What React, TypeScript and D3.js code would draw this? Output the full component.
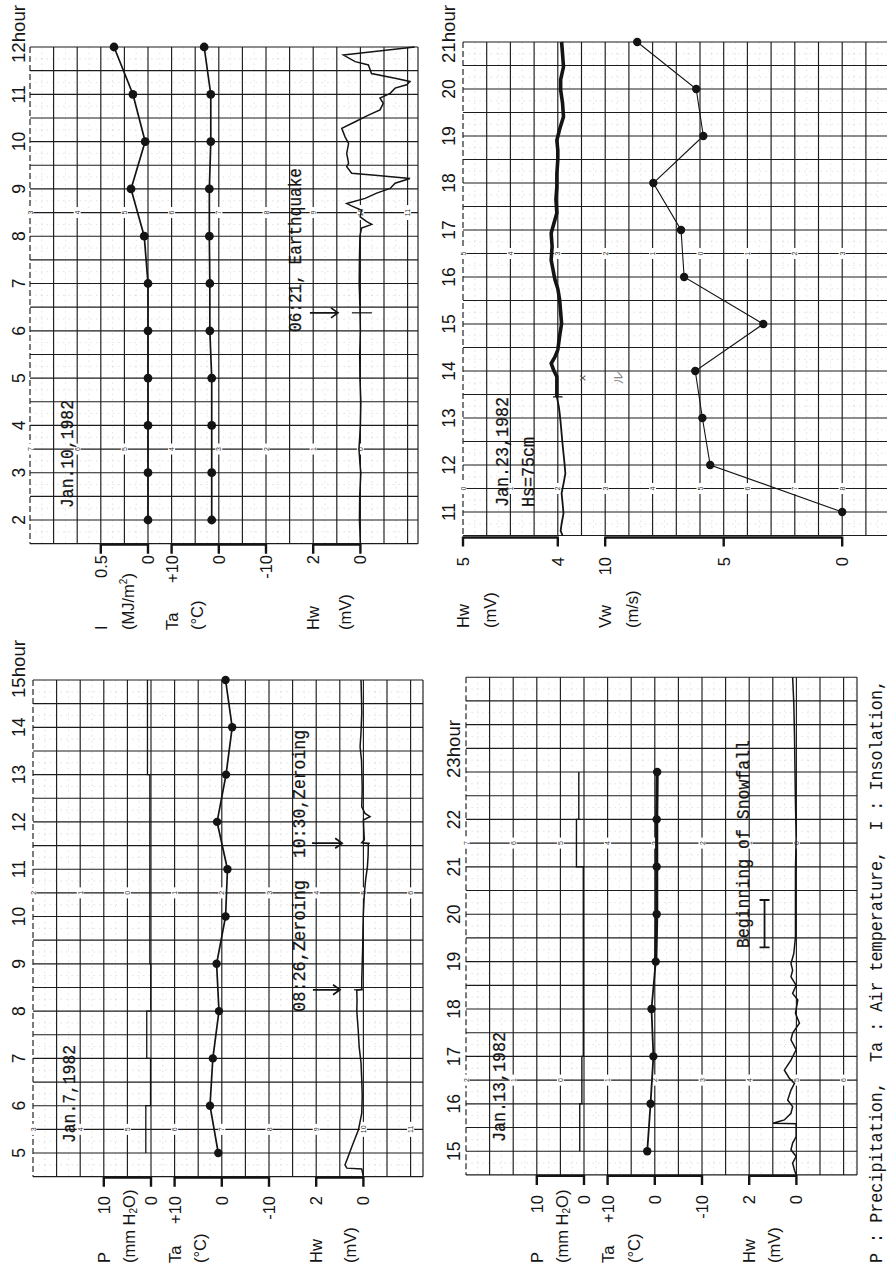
import React from "react";
import * as d3 from "d3";

const SANS = "'Liberation Sans', Arial, sans-serif";
const MONO = "'Liberation Mono', 'DejaVu Sans Mono', monospace";
const INK = "#141414";

// Jan.10,1982  (upper left)
const jan10Hours = [2, 3, 4, 5, 6, 7, 8, 9, 10, 11, 12];
const jan10Insolation = [0, 0, 0, 0, 0, 0, 0.04, 0.18, 0.03, 0.16, 0.36];
const jan10AirTemp = [1.5, 1.5, 1.5, 1.5, 1.9, 1.9, 2.0, 2.0, 1.7, 1.7, 3.1];
const jan10Hw: [number, number][] = [
  [12.0, -2.3], [11.83, 0.72], [11.69, 0.22], [11.62, -0.34], [11.44, -0.47], [11.34, -1.47],
  [11.27, -2.1], [11.2, -1.96], [11.13, -1.47], [11.02, -1.26], [10.92, -0.83], [10.81, -0.97],
  [10.67, -0.83], [10.56, -0.34], [10.42, 0.22], [10.28, 0.79], [10.1, 0.65], [9.96, 0.5],
  [9.75, 0.58], [9.54, 0.5], [9.47, 0.58], [9.33, 0.37], [9.29, -0.62], [9.22, -2.1],
  [9.12, -1.47], [9.01, -1.26], [8.91, -0.69], [8.8, -0.2], [8.69, 0.58], [8.64, 0.38],
  [8.55, -0.05], [8.41, 0.01], [8.31, -0.27], [8.25, -0.48], [8.17, -0.05], [8.0, 0.02],
  [7.5, 0.04], [7.0, 0.05], [6.5, 0.02], [6.0, 0.0], [5.5, 0.03], [5.0, 0.02], [4.5, -0.02],
  [4.0, 0.0], [3.5, 0.06], [3.2, 0.02], [3.0, -0.02], [2.5, 0.03], [2.0, 0.04], [1.5, 0.0],
];
const jan10Quake = 6.38;

// Jan.23,1982  (upper right)
const jan23Hours = [11, 12, 13, 14, 15, 16, 17, 18, 19, 20, 21];
const jan23WindSpeed = [0, 5.57, 5.9, 6.2, 3.33, 6.67, 6.8, 7.97, 5.86, 6.16, 8.65];
const jan23Hw: [number, number][] = [
  [21.0, 3.96], [20.75, 3.95], [20.47, 3.94], [20.2, 3.97], [19.98, 3.97], [19.7, 3.95],
  [19.41, 3.94], [19.15, 3.98], [18.91, 4.01], [18.7, 4.0], [18.49, 4.0], [18.2, 4.01],
  [17.92, 4.01], [17.65, 4.02], [17.36, 4.01], [17.15, 4.04], [16.93, 4.07], [16.65, 4.06],
  [16.36, 4.07], [16.15, 4.05], [15.94, 4.03], [15.75, 4.0], [15.51, 3.98], [15.25, 3.97],
  [15.01, 3.96], [14.75, 3.98], [14.45, 4.0], [14.3, 4.03], [14.16, 4.07], [14.0, 4.04],
  [13.88, 4.01], [13.65, 4.01], [13.45, 4.01], [13.25, 3.99], [13.1, 3.98], [12.9, 3.97],
  [12.67, 3.96], [12.45, 3.95], [12.25, 3.94], [12.05, 3.93], [11.82, 3.92], [11.6, 3.94],
  [11.4, 3.96], [11.2, 3.95], [10.97, 3.94], [10.75, 3.96], [10.6, 3.97], [10.5, 3.95],
];

// Jan.7,1982  (lower left)
const jan7Hours = [5, 6, 7, 8, 9, 10, 11, 12, 13, 14, 15];
const jan7AirTemp = [0.75, 2.5, 1.9, 0.6, 1.1, -0.8, -1.2, 1.0, -0.9, -2.2, -0.8];
const jan7PrecipBreaks = [5, 6, 7, 8, 9, 13, 15];
const jan7Precip = [1.1, 0.1, 0.9, 0.05, 0.25, 0.75];
const jan7Hw: [number, number][] = [
  [15.0, 0.1], [14.6, 0.08], [14.3, 0.07], [13.9, 0.1], [13.59, 0.14], [13.3, 0.08], [13.1, 0.07],
  [12.7, 0.05], [12.32, 0.07], [12.18, -0.07], [12.11, -0.28], [12.04, 0.0], [11.8, -0.02],
  [11.62, -0.04], [11.56, 0.07], [11.54, -0.21], [11.3, -0.2], [11.05, -0.17], [10.8, -0.1],
  [10.49, -0.04], [10.07, 0.0], [9.7, 0.02], [9.36, 0.03], [9.0, 0.05], [8.66, 0.07],
  [8.46, 0.07], [8.44, 0.28], [8.2, 0.27], [8.0, 0.28], [7.6, 0.22], [7.25, 0.18], [6.9, 0.1],
  [6.54, 0.07], [6.2, 0.05], [5.84, 0.07], [5.49, 0.21], [5.13, 0.49], [4.85, 0.7], [4.75, 0.78],
  [4.68, 0.7], [4.66, 0.07], [4.5, 0.0],
];
const jan7Zeroing = [8.45, 11.55];

// Jan.13,1982  (lower right)
const jan13Hours = [15, 16, 17, 18, 19, 20, 21, 22, 23];
const jan13AirTemp = [1.6, 0.9, 0.3, 0.7, -0.2, -0.4, -0.4, -0.4, -0.5];
const jan13PrecipBreaks = [15, 16, 17, 21, 22, 23];
const jan13Precip = [0.9, 0.45, 0.15, 1.6, 1.1];
const jan13Hw: [number, number][] = [
  [25.0, 0.16], [24.45, 0.11], [23.75, 0.08], [23.04, 0.06], [22.34, 0.04], [21.63, 0.01],
  [20.93, 0.04], [20.23, 0.04], [19.52, 0.04], [19.17, 0.11], [18.96, 0.23], [18.82, 0.16],
  [18.68, 0.23], [18.5, 0.01], [18.33, 0.16], [18.19, -0.06], [17.91, 0.04], [17.7, -0.13],
  [17.49, 0.16], [17.35, 0.23], [17.14, 0.01], [16.92, 0.23], [16.71, 0.51], [16.54, 0.3],
  [16.43, 0.08], [16.29, 0.23], [16.08, 0.37], [15.94, 0.16], [15.8, 0.23], [15.66, 0.51],
  [15.62, 0.78], [15.59, 0.99], [15.58, 0.01], [15.31, 0.01], [15.17, 0.16], [15.03, 0.23],
  [14.89, 0.01], [14.75, 0.16], [14.6, 0.08], [14.5, 0.01],
];
const jan13Snowfall = [19.3, 20.3];

// numbers printed on the recorder paper, every second column
const paperA = { rows: [8.5, 3.5], labels: [["3", "4", "5", "6", "7", "8", "9", "10", "11"], ["7", "6", "5", "4", "3", "2", "1", "0"]] };
const paperB = { rows: [16.5, 11.5], labels: [["5", "4", "3", "2", "1", "0", "1", "2", "3"], ["0", "1", "2", "3", "4", "5", "6", "7", "8"]] };
const paperC = { rows: [10.5, 5.5], labels: [["2", "1", "0", "1", "2", "3", "4", "5", "6"], ["3", "4", "5", "6", "7", "8", "9", "10", "11"]] };
const paperD = { rows: [21.5, 16.5], labels: [["7", "6", "5", "4", "3", "2", "1", "0"], ["2", "1", "0", "1", "2", "3", "4", "5", "6"]] };

type Geo = {
  left: number; right: number; step: number; cols: number;
  hMin: number; hMax: number; top: number; bottom: number; border: boolean;
};

const geoA: Geo = { left: 30, right: 418, step: 23.6, cols: 16, hMin: 1.5, hMax: 12, top: 47, bottom: 543.65, border: true };
const geoB: Geo = { left: 463, right: 887, step: 23.7, cols: 18, hMin: 10.5, hMax: 21, top: 42, bottom: 535.5, border: false };
const geoC: Geo = { left: 33, right: 423, step: 23.6, cols: 16, hMin: 4.5, hMax: 15, top: 680, bottom: 1176.65, border: true };
const geoD: Geo = { left: 466, right: 857, step: 23.6, cols: 16, hMin: 14.5, hMax: 25, top: 677.2, bottom: 1174.9, border: true };

const col = (g: Geo, k: number) => g.left + k * g.step;
const colScale = (g: Geo, v0: number, k0: number, v1: number, k1: number) =>
  d3.scaleLinear().domain([v0, v1]).range([col(g, k0), col(g, k1)]);
const timeScale = (g: Geo) => d3.scaleLinear().domain([g.hMin, g.hMax]).range([g.bottom, g.top]);

function VText({ x, y, anchor = "start", size = 16, family = SANS, len, fill = INK, children }: any) {
  return (
    <text
      transform={`translate(${x},${y}) rotate(-90)`}
      textAnchor={anchor}
      dominantBaseline="central"
      fontSize={size}
      fontFamily={family}
      fill={fill}
      textLength={len}
      lengthAdjust={len ? "spacingAndGlyphs" : undefined}
      style={{ whiteSpace: "pre" }}
    >
      {children}
    </text>
  );
}

function Grid({ g, ys, paper }: { g: Geo; ys: any; paper: any }) {
  const rows = d3.range(g.hMin, g.hMax + 0.001, 0.5);
  const midRows = d3.range(g.hMin + 0.25, g.hMax, 0.5);
  const cols = d3.range(0, g.cols + 1).map((k) => col(g, k)).filter((x) => x <= g.right);
  const midCols = d3.range(0, g.cols + 1).map((k) => col(g, k + 0.5)).filter((x) => x < g.right);
  return (
    <g>
      {midRows.map((h, i) => (
        <line key={"mr" + i} x1={g.left} x2={g.right} y1={ys(h)} y2={ys(h)} stroke="#999" strokeWidth={0.7} strokeDasharray="1.5 4" opacity={0.4} />
      ))}
      {midCols.map((x, i) => (
        <line key={"mc" + i} x1={x} x2={x} y1={g.top} y2={g.bottom} stroke="#999" strokeWidth={0.7} strokeDasharray="1.5 4" opacity={0.4} />
      ))}
      {rows.map((h, i) => (
        <line key={"r" + i} x1={g.left} x2={g.right} y1={ys(h)} y2={ys(h)} stroke="#1c1c1c" strokeWidth={1.15} />
      ))}
      {cols.map((x, i) => (
        <line key={"c" + i} x1={x} x2={x} y1={g.top} y2={g.bottom} stroke="#1c1c1c" strokeWidth={1.15}
          strokeDasharray={i === 0 ? "6 3" : undefined} />
      ))}
      {g.border && <line x1={g.right} x2={g.right} y1={g.top} y2={g.bottom} stroke="#1c1c1c" strokeWidth={1.15} />}
      {paper.rows.map((h: number, r: number) =>
        paper.labels[r].map((t: string, i: number) => {
          const x = col(g, i * 2);
          if (x > 884) return null;
          return (
            <g key={"p" + r + "-" + i}>
              <rect x={x - 3.5} y={ys(h) - 3.5 - t.length * 2} width={7} height={7 + t.length * 4} fill="#fff" />
              <VText x={x} y={ys(h)} anchor="middle" size={7} fill="#333">{t}</VText>
            </g>
          );
        })
      )}
    </g>
  );
}

function Hours({ ys, hours, x, topOffset }: { ys: any; hours: number[]; x: number; topOffset: number }) {
  const last = hours[hours.length - 1];
  return (
    <g>
      {hours.slice(0, -1).map((h) => (
        <VText key={h} x={x} y={ys(h)} anchor="middle" size={17.5}>{String(h)}</VText>
      ))}
      <VText x={x} y={ys(last) + topOffset} size={17.5} len={58}>{`${last}hour`}</VText>
    </g>
  );
}

function Axis({ scale, ticks, labels, y, labelTop, nameBottom, name, unit, unitDx = 26 }: any) {
  const xs: number[] = ticks.map((t: number) => scale(t));
  const x0 = d3.min(xs) as number;
  const x1 = d3.max(xs) as number;
  const d = `M${x0},${y}H${x1}` + xs.map((x) => `M${x},${y - 1}V${y + 9}`).join("");
  return (
    <g>
      <path d={d} stroke={INK} strokeWidth={2.4} fill="none" />
      {xs.map((x, i) => (
        <VText key={i} x={x} y={labelTop} anchor="end" size={16.5}>{labels[i]}</VText>
      ))}
      <VText x={x0} y={nameBottom} size={16.5}>{name}</VText>
      <VText x={x0 + unitDx} y={nameBottom} size={16.5}>{unit}</VText>
    </g>
  );
}

function Arrow({ y, x0, x1, m0, m1 }: { y: number; x0: number; x1: number; m0: number; m1: number }) {
  return (
    <g stroke={INK} strokeWidth={1.7} fill="none">
      <path d={`M${x0},${y}H${x1}M${x1 - 7},${y - 5}L${x1},${y}L${x1 - 7},${y + 5}`} />
      <path d={`M${m0},${y}H${m1}`} strokeWidth={1.2} />
    </g>
  );
}

const traceLine = (xs: any, ys: any) =>
  d3.line<[number, number]>().x((d) => xs(d[1])).y((d) => ys(d[0]));

const stepPoints = (breaks: number[], vals: number[]): [number, number][] =>
  vals.flatMap((v, i) => [[breaks[i], v], [breaks[i + 1], v]] as [number, number][]);

function Dots({ hours, vals, xs, ys, r = 4.4 }: any) {
  return (
    <g>
      {hours.map((h: number, i: number) => (
        <circle key={h} cx={xs(vals[i])} cy={ys(h)} r={r} fill={INK} />
      ))}
    </g>
  );
}

function Label({ x, y, len, children }: any) {
  return (
    <g stroke={INK} strokeWidth={0.25}>
      <VText x={x} y={y} family={MONO} size={19} len={len}>{children}</VText>
    </g>
  );
}

function PanelJan10() {
  const g = geoA;
  const ys = timeScale(g);
  const xI = colScale(g, 0, 5, 0.5, 3);
  const xTa = colScale(g, -10, 10, 10, 6);
  const xHw = colScale(g, 0, 14, 2, 12);
  const iPts = jan10Hours.map((h, i) => [h, jan10Insolation[i]] as [number, number]);
  const taPts = jan10Hours.map((h, i) => [h, jan10AirTemp[i]] as [number, number]);
  const yq = ys(jan10Quake);
  return (
    <g>
      <Grid g={g} ys={ys} paper={paperA} />
      <Hours ys={ys} hours={jan10Hours} x={18.5} topOffset={16} />
      <path d={traceLine(xI, ys)(iPts) || ""} stroke={INK} strokeWidth={1.7} fill="none" />
      <Dots hours={jan10Hours} vals={jan10Insolation} xs={xI} ys={ys} />
      <path d={traceLine(xTa, ys)(taPts) || ""} stroke={INK} strokeWidth={1.7} fill="none" />
      <Dots hours={jan10Hours} vals={jan10AirTemp} xs={xTa} ys={ys} />
      <path d={traceLine(xHw, ys)(jan10Hw) || ""} stroke={INK} strokeWidth={1.5} fill="none" />
      <Arrow y={yq} x0={xHw(2.14)} x1={xHw(0.95)} m0={xHw(0.36)} m1={xHw(-0.49)} />
      <Label x={68} y={508} len={108}>Jan.10,1982</Label>
      <Label x={296} y={332} len={164}>06:21, Earthquake</Label>
      <Axis scale={xI} ticks={[0.5, 0]} labels={["0.5", "0"]} y={g.bottom + 1} labelTop={555} nameBottom={630}
        name="I" unitDx={27}
        unit={<>(MJ/m<tspan dy={-5} fontSize={10}>2</tspan><tspan dy={5}>)</tspan></>} />
      <Axis scale={xTa} ticks={[10, 0, -10]} labels={["+10", "0", "-10"]} y={g.bottom + 1} labelTop={555} nameBottom={630}
        name="Ta" unit="(°C)" unitDx={25} />
      <Axis scale={xHw} ticks={[2, 0]} labels={["2", "0"]} y={g.bottom + 1} labelTop={555} nameBottom={630}
        name="Hw" unit="(mV)" unitDx={32} />
    </g>
  );
}

function PanelJan23() {
  const g = geoB;
  const ys = timeScale(g);
  const xHw = colScale(g, 4, 4, 5, 0);
  const xVw = colScale(g, 0, 16, 10, 6);
  const vwPts = jan23Hours.map((h, i) => [h, jan23WindSpeed[i]] as [number, number]);
  const upper = jan23Hw.filter((d) => d[0] >= 13.3);
  const lower = jan23Hw.filter((d) => d[0] <= 13.45);
  const yMark = ys(13.45);
  return (
    <g>
      <Grid g={g} ys={ys} paper={paperB} />
      <Hours ys={ys} hours={jan23Hours} x={449} topOffset={21} />
      <path d={traceLine(xHw, ys)(upper) || ""} stroke={INK} strokeWidth={3.6} fill="none" strokeLinejoin="round" />
      <path d={traceLine(xHw, ys)(lower) || ""} stroke={INK} strokeWidth={1.8} fill="none" />
      <path d={`M${xHw(4.05)},${yMark}H${xHw(3.95)}`} stroke={INK} strokeWidth={1.3} />
      <path d={traceLine(xVw, ys)(vwPts) || ""} stroke={INK} strokeWidth={1.1} fill="none" />
      <Dots hours={jan23Hours} vals={jan23WindSpeed} xs={xVw} ys={ys} r={4.2} />
      <VText x={xHw(3.73)} y={ys(13.85)} anchor="middle" size={12} fill="#555">×</VText>
      <VText x={xHw(3.37)} y={ys(13.85)} anchor="middle" size={12} fill="#777">ル</VText>
      <Label x={503} y={507} len={110}>Jan.23,1982</Label>
      <Label x={529} y={507} len={70}>Hs=75cm</Label>
      <Axis scale={xHw} ticks={[5, 4]} labels={["5", "4"]} y={g.bottom + 2} labelTop={557} nameBottom={628}
        name="Hw" unit="(mV)" unitDx={27} />
      <Axis scale={xVw} ticks={[10, 5, 0]} labels={["10", "5", "0"]} y={g.bottom + 2} labelTop={557} nameBottom={628}
        name="Vw" unit="(m/s)" unitDx={27} />
    </g>
  );
}

function PanelJan7() {
  const g = geoC;
  const ys = timeScale(g);
  const xP = colScale(g, 0, 5, 10, 3);
  const xTa = colScale(g, -10, 10, 10, 6);
  const xHw = colScale(g, 0, 14, 2, 12);
  const taPts = jan7Hours.map((h, i) => [h, jan7AirTemp[i]] as [number, number]);
  return (
    <g>
      <Grid g={g} ys={ys} paper={paperC} />
      <Hours ys={ys} hours={jan7Hours} x={19} topOffset={18} />
      <path d={traceLine(xP, ys)(stepPoints(jan7PrecipBreaks, jan7Precip)) || ""} stroke={INK} strokeWidth={1.3} fill="none" />
      <path d={traceLine(xTa, ys)(taPts) || ""} stroke={INK} strokeWidth={1.7} fill="none" />
      <Dots hours={jan7Hours} vals={jan7AirTemp} xs={xTa} ys={ys} r={4.2} />
      <path d={traceLine(xHw, ys)(jan7Hw) || ""} stroke={INK} strokeWidth={1.5} fill="none" />
      <Arrow y={ys(jan7Zeroing[0])} x0={xHw(2.14)} x1={xHw(0.99)} m0={xHw(0.4)} m1={xHw(0)} />
      <Arrow y={ys(jan7Zeroing[1])} x0={xHw(2.18)} x1={xHw(0.9)} m0={xHw(0)} m1={xHw(-0.28)} />
      <Label x={70} y={1143} len={98}>Jan.7,1982</Label>
      <Label x={300} y={1012} len={132}>08:26,Zeroing</Label>
      <Label x={300} y={858} len={128}>10:30,Zeroing</Label>
      <Axis scale={xP} ticks={[10, 0]} labels={["10", "0"]} y={g.bottom + 1} labelTop={1196} nameBottom={1263}
        name="P" unitDx={25}
        unit={<>(mm H<tspan dy={4} fontSize={10}>2</tspan><tspan dy={-4}>O)</tspan></>} />
      <Axis scale={xTa} ticks={[10, 0, -10]} labels={["+10", "0", "-10"]} y={g.bottom + 1} labelTop={1196} nameBottom={1263}
        name="Ta" unit="(°C)" unitDx={25} />
      <Axis scale={xHw} ticks={[2, 0]} labels={["2", "0"]} y={g.bottom + 1} labelTop={1196} nameBottom={1263}
        name="Hw" unit="(mV)" unitDx={34} />
    </g>
  );
}

function PanelJan13() {
  const g = geoD;
  const ys = timeScale(g);
  const xP = colScale(g, 0, 5, 10, 3);
  const xTa = colScale(g, -10, 10, 10, 6);
  const xHw = colScale(g, 0, 14, 2, 12);
  const taPts = jan13Hours.map((h, i) => [h, jan13AirTemp[i]] as [number, number]);
  const xb = xHw(1.35);
  const yb0 = ys(jan13Snowfall[0]);
  const yb1 = ys(jan13Snowfall[1]);
  return (
    <g>
      <Grid g={g} ys={ys} paper={paperD} />
      <Hours ys={ys} hours={jan13Hours} x={454} topOffset={6} />
      <path d={traceLine(xP, ys)(stepPoints(jan13PrecipBreaks, jan13Precip)) || ""} stroke={INK} strokeWidth={1.4} fill="none" />
      <path d={traceLine(xTa, ys)(taPts) || ""} stroke={INK} strokeWidth={1.8} fill="none" />
      <path d={traceLine(xTa, ys)(taPts.filter((d) => d[0] >= 19)) || ""} stroke={INK} strokeWidth={3.2} fill="none" />
      <Dots hours={jan13Hours} vals={jan13AirTemp} xs={xTa} ys={ys} r={4.2} />
      <path d={traceLine(xHw, ys)(jan13Hw) || ""} stroke={INK} strokeWidth={1.5} fill="none" />
      <path d={`M${xb},${yb0}V${yb1}M${xb - 5},${yb0}H${xb + 5}M${xb - 5},${yb1}H${xb + 5}`} stroke={INK} strokeWidth={1.8} fill="none" />
      <Label x={500} y={1142} len={110}>Jan.13,1982</Label>
      <Label x={744} y={948} len={208}>Beginning of Snowfall</Label>
      <Axis scale={xP} ticks={[10, 0]} labels={["10", "0"]} y={g.bottom + 1} labelTop={1195} nameBottom={1263}
        name="P" unitDx={25}
        unit={<>(mm H<tspan dy={4} fontSize={10}>2</tspan><tspan dy={-4}>O)</tspan></>} />
      <Axis scale={xTa} ticks={[10, 0, -10]} labels={["+10", "0", "-10"]} y={g.bottom + 1} labelTop={1195} nameBottom={1263}
        name="Ta" unit="(°C)" unitDx={26} />
      <Axis scale={xHw} ticks={[2, 0]} labels={["2", "0"]} y={g.bottom + 1} labelTop={1195} nameBottom={1263}
        name="Hw" unit="(mV)" unitDx={25} />
    </g>
  );
}

export default function App() {
  return (
    <div style={{ position: "absolute", left: 0, top: 0 }}>
      <svg width={887} height={1271} viewBox="0 0 887 1271" style={{ display: "block", background: "#fff" }}>
        <rect width={887} height={1271} fill="#fff" />
        <PanelJan10 />
        <PanelJan23 />
        <PanelJan7 />
        <PanelJan13 />
        <VText x={877} y={1263} family={MONO} size={19} len={583}>
          {"P : Precipitation,  Ta : Air temperature,  I : Insolation,"}
        </VText>
      </svg>
    </div>
  );
}
